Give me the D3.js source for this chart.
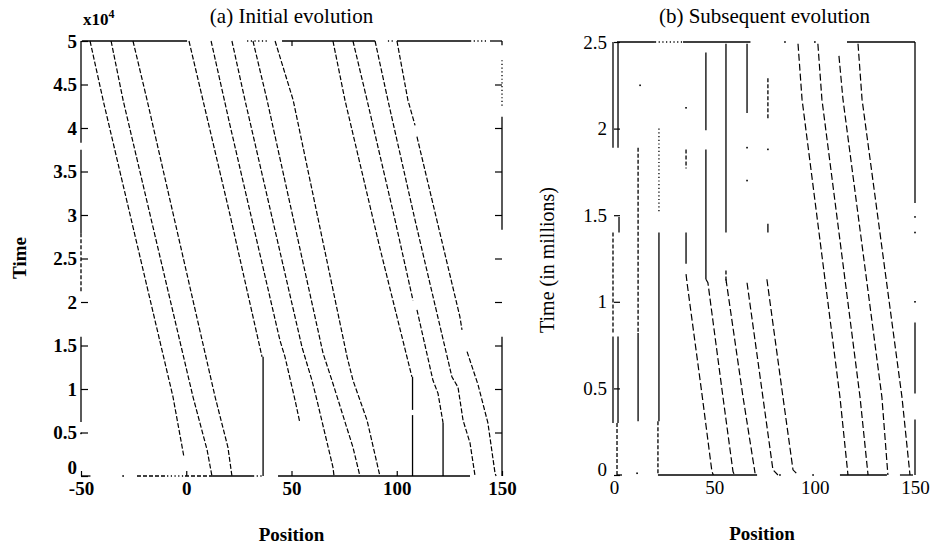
<!DOCTYPE html>
<html><head><meta charset="utf-8">
<script src="https://cdn.jsdelivr.net/npm/d3@7"></script>
<style>body{margin:0;background:#fff}svg{display:block}</style>
</head><body>
<svg id="c" width="934" height="548"></svg>
<script>
// ---------- data ----------
const leftXTicks = [-50, 0, 50, 100, 150];
const leftYTicks = [0, 0.5, 1, 1.5, 2, 2.5, 3, 3.5, 4, 4.5, 5];
const rightXTicks = [0, 50, 100, 150];
const rightYTicks = [0, 0.5, 1, 1.5, 2, 2.5];

// panel (a): particle trajectories [position, time (x10^4)]
const leftPaths = [
  [[-45.7,5],[-39.5,4.32],[-6.3,0.91],[-1.1,0.22]],
  [[-35.7,5],[-30.0,4.32],[3.2,0.91],[9.9,0.30],[12.2,0]],
  [[-25.3,5],[-18.6,4.32],[13.7,0.91],[19.8,0.33],[21.7,0]],
  [[1.3,5],[20.8,3.0],[36.0,1.37]],
  [[11.8,5],[20.8,4.03],[44.5,1.56],[46.9,1.37],[51.7,0.87],[54.0,0.61]],
  [[21.7,5],[27.9,4.32],[55.0,1.48],[59.7,1.10],[62.1,0.87],[69.7,0.10],[70.2,0]],
  [[31.7,5],[38.4,4.32],[65.0,1.41],[69.2,1.10],[79.2,0.33],[82.5,0]],
  [[42.2,5],[50.8,4.32],[76.4,1.37],[79.2,1.10],[85.9,0.64],[92.0,0]],
  [[69.7,5],[75.4,4.32],[92.0,2.62],[107.2,1.14]],
  [[79.2,5],[85.9,4.32],[99.2,2.94],[107.7,2.02]],
  [[109.6,1.91],[117.2,1.10],[119.6,0.95],[122.0,0.61]],
  [[89.7,5],[95.8,4.32],[108.7,2.94],[126.2,1.14],[129.1,1.02],[131.5,0.64],[134.8,0.38],[137.2,0]],
  [[100.1,5],[105.3,4.32],[108.7,4.03]],
  [[109.6,3.90],[130.0,1.83],[131.0,1.68]],
  [[133.4,1.43],[138.6,1.05],[143.3,0.61],[146.7,0.03],[147.2,0]]
];
// panel (a): vertical segments [position, t0, t1]
const leftVSolid = [[36.5,1.37,0],[107.5,1.14,0.76],[107.5,0.70,0],[122.0,0.61,0],
  [-50,5,3.83],[-50,3.75,2.79],[-50,1.60,0.62],[150,5,4.95],[150,4.13,2.83],[150,1.60,0]];
const leftVDashed = [[-50,2.79,2.10]];
const leftVDotted = [[150,4.78,4.24]];
// panel (a): horizontal segments [time, x0, x1]
const leftHSolid = [[5,-49.5,0.4],[5,45.5,89.7],[5,100.1,134.8],[5,144.3,150],
  [0,-50,-45.5],[0,12.7,31.7],[0,43.6,134.8]];
const leftHDashed = [[0,-23.4,-9.1],[0,-0.6,12.7]];
const leftHDotted = [[5,28.9,38.4],[5,95.8,99.2],[5,134.8,142.9],[0,-9.1,-1.5],[0,31.7,36.5]];
const leftDots = [[-50,0.49],[-30,0]];

// panel (b): trajectories [position, time (millions)]
const rightPaths = [
  [[35.9,1.16],[36.4,1.11],[43.8,0.47],[48.8,0.02],[49.5,0]],
  [[45.8,1.13],[46.8,1.11],[54.3,0.45],[59.3,0.02],[60,0]],
  [[55.8,1.13],[64.3,0.45],[70.3,0.01]],
  [[66.3,1.11],[74.2,0.45],[79.2,0.03],[81.7,0]],
  [[76.2,1.13],[84.2,0.45],[89.2,0.03],[91.7,0]],
  [[91.7,2.49],[93.7,2.17],[112.6,0.45],[116.6,0]],
  [[101.6,2.49],[103.6,2.17],[122.6,0.45],[126.6,0]],
  [[112.1,2.42],[114.1,2.17],[133.5,0.45],[136.5,0]],
  [[121.6,2.49],[123.6,2.17],[143.5,0.45],[147.5,0]]
];
const rightVSolid = [[-0.5,2.5,1.89],[2.0,2.5,1.89],[2.5,1.49,1.40],[-0.5,0.80,0.30],[2.0,0.80,0.30],
  [12.0,0.82,0.31],[22.4,1.40,0.31],[35.9,1.40,1.22],[45.8,2.44,1.99],[45.8,1.88,1.13],
  [55.8,2.49,1.40],[66.3,2.49,2.09],[76.7,1.45,1.40],[150,2.5,1.57],[150,0.88,0.47],[150,0.32,0]];
const rightVDashed = [[-0.5,1.40,0.82],[1.5,0.30,0],[12.0,1.89,0.82],[21.9,0.31,0],[35.9,1.88,1.77],
  [55.8,1.18,1.11],[76.7,2.29,2.06]];
const rightVDotted = [[22.4,2.00,1.51]];
const rightHSolid = [[2.5,1.5,20.4],[2.5,34.4,68.0],[2.5,116.1,150],[0,21.9,71.3],[0,112.6,136.0],[0,142.5,149.0],[0,1.5,4.0]];
const rightHDotted = [[2.5,20.4,34.4]];
const rightDots = [[13.0,2.25],[35.9,2.12],[66.3,1.89],[66.3,1.70],[76.7,1.88],[150,1.49],[150,1.40],[150,1.00],[11.5,0.01],[82.7,0],[99.2,0],[85.2,2.5],[100.1,2.5]];

// ---------- drawing ----------
const svg = d3.select("#c");
const serif = "Liberation Serif, 'DejaVu Serif', serif";

const xA = d3.scaleLinear().domain([-50,150]).range([81,502]);
const yA = d3.scaleLinear().domain([0,5]).range([476,41]);
const xB = d3.scaleLinear().domain([0,150]).range([614,915]);
const yB = d3.scaleLinear().domain([0,2.5]).range([475,42]);

function panel(g, x, y, paths, vs, vd, vdot, hs, hd, hdot, dots, dashTraj){
  const line = d3.line().x(d=>x(d[0])).y(d=>y(d[1]));
  g.selectAll(null).data(paths).join("path")
    .attr("d", line).attr("fill","none").attr("stroke","#000")
    .attr("stroke-width",1.2).attr("stroke-dasharray",dashTraj);
  const vseg = (data, dash) => g.selectAll(null).data(data).join("line")
    .attr("x1",d=>x(d[0])).attr("x2",d=>x(d[0]))
    .attr("y1",d=>y(d[1])).attr("y2",d=>y(d[2]))
    .attr("stroke","#000").attr("stroke-width",1.3).attr("stroke-dasharray",dash);
  const hseg = (data, dash) => g.selectAll(null).data(data).join("line")
    .attr("y1",d=>y(d[0])).attr("y2",d=>y(d[0]))
    .attr("x1",d=>x(d[1])).attr("x2",d=>x(d[2]))
    .attr("stroke","#000").attr("stroke-width",1.3).attr("stroke-dasharray",dash);
  vseg(vs, null); vseg(vd, "4,2"); vseg(vdot, "1.2,2.5");
  hseg(hs, null); hseg(hd, "4,2"); hseg(hdot, "1.2,2.5");
  g.selectAll(null).data(dots).join("rect")
    .attr("x",d=>x(d[0])-0.8).attr("y",d=>y(d[1])-0.8)
    .attr("width",1.6).attr("height",1.6).attr("fill","#000");
}

const gA = svg.append("g");
panel(gA, xA, yA, leftPaths, leftVSolid, leftVDashed, leftVDotted, leftHSolid, leftHDashed, leftHDotted, leftDots, "5,2");
const gB = svg.append("g");
panel(gB, xB, yB, rightPaths, rightVSolid, rightVDashed, rightVDotted, rightHSolid, [], rightHDotted, rightDots, "7,3");

function styleAxis(g, weight){
  g.select(".domain").remove();
  g.attr("font-family", serif).attr("font-size", 19).attr("font-weight", weight);
  g.selectAll(".tick line").attr("stroke","#000").attr("stroke-width",1.2);
  g.selectAll(".tick text").attr("fill","#000");
  return g;
}
const fmt = d => String(d);

// panel (a) axes
styleAxis(svg.append("g").attr("transform","translate(81,0)")
  .call(d3.axisLeft(yA).tickValues(leftYTicks).tickFormat(fmt).tickSize(-7).tickPadding(4)), "bold")
  .selectAll(".tick text").filter(d=>d===0).attr("dy","-0.12em");
styleAxis(svg.append("g").attr("transform","translate(502,0)")
  .call(d3.axisRight(yA).tickValues(leftYTicks.filter(v=>v>0&&v<5)).tickFormat("").tickSize(-7)), "bold");
styleAxis(svg.append("g").attr("transform","translate(0,476)")
  .call(d3.axisBottom(xA).tickValues(leftXTicks).tickFormat(fmt).tickSize(-5).tickPadding(6)), "bold");
styleAxis(svg.append("g").attr("transform","translate(0,41)")
  .call(d3.axisTop(xA).tickValues([50]).tickFormat("").tickSize(-5)), "bold");

// panel (b) axes
styleAxis(svg.append("g").attr("transform","translate(614,0)")
  .call(d3.axisLeft(yB).tickValues(rightYTicks).tickFormat(fmt).tickSize(-6).tickPadding(7)), "normal")
  .selectAll(".tick text").filter(d=>d===0).attr("dy","0.05em");
styleAxis(svg.append("g").attr("transform","translate(0,475)")
  .call(d3.axisBottom(xB).tickValues(rightXTicks).tickFormat(fmt).tickSize(0).tickPadding(6)), "normal");

// texts
const txt = (x,y,s,opt={}) => svg.append("text").attr("x",x).attr("y",y)
  .attr("font-family",serif).attr("font-size",opt.size||19)
  .attr("font-weight",opt.weight||"normal").attr("text-anchor",opt.anchor||"middle")
  .attr("transform",opt.rot?`rotate(-90,${x},${y})`:null).text(s);

txt(291.5, 23, "(a)  Initial evolution", {size:21});
txt(764.5, 23, "(b)  Subsequent evolution", {size:21});
txt(291.5, 541, "Position", {weight:"bold"});
txt(762, 540, "Position", {weight:"bold"});
txt(26, 258, "Time", {weight:"bold", rot:true});
txt(554, 260, "Time (in millions)", {rot:true, size:20});
const xl = svg.append("text").attr("x",83).attr("y",25).attr("font-family",serif)
  .attr("font-size",17).attr("font-weight","bold").text("x10");
xl.append("tspan").attr("dy",-7).attr("font-size",12).text("4");
</script>
</body></html>
